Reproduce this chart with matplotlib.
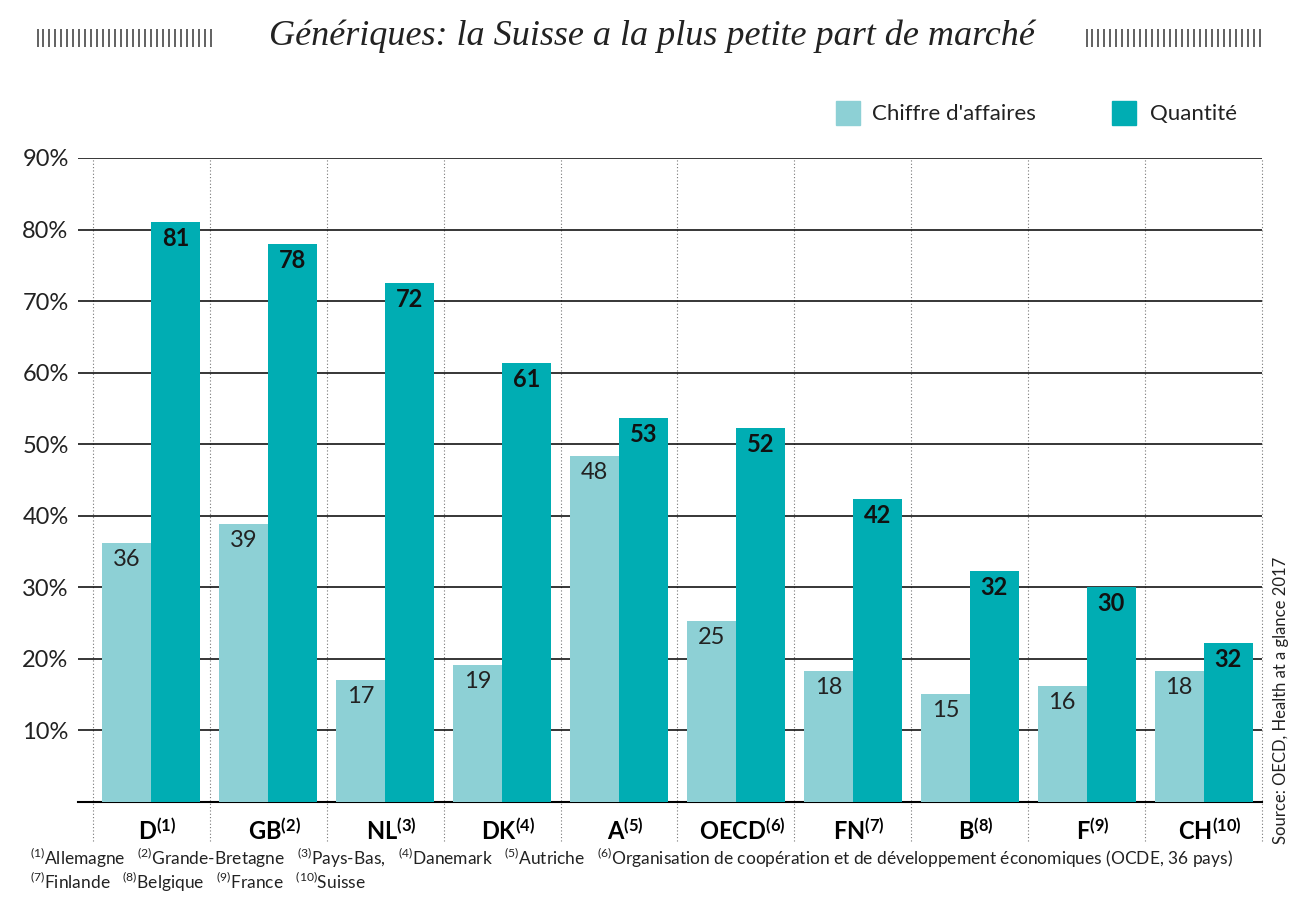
import matplotlib
matplotlib.use("Agg")
import matplotlib.pyplot as plt
import numpy as np

countries = ["D", "GB", "NL", "DK", "A", "OECD", "FN", "B", "F", "CH"]
notes = ["1", "2", "3", "4", "5", "6", "7", "8", "9", "10"]
chiffre = [36.2, 38.8, 17.1, 19.1, 48.3, 25.3, 18.3, 15.1, 16.2, 18.3]
quantite = [81.0, 78.0, 72.5, 61.4, 53.6, 52.2, 42.3, 32.3, 30.1, 22.2]
chiffre_labels = ["36", "39", "17", "19", "48", "25", "18", "15", "16", "18"]
quantite_labels = ["81", "78", "72", "61", "53", "52", "42", "32", "30", "32"]
yticks = [10, 20, 30, 40, 50, 60, 70, 80, 90]

light = "#8dd0d5"
dark = "#00adb3"

plt.rcParams["font.family"] = ["Lato", "DejaVu Sans"]
plt.rcParams["mathtext.fontset"] = "custom"
plt.rcParams["mathtext.rm"] = "Lato"
plt.rcParams["mathtext.bf"] = "Lato:bold"
plt.rcParams["mathtext.it"] = "Lato:italic"

fig = plt.figure(figsize=(13.04, 9.0), dpi=100)
ax = fig.add_axes([78 / 1304, 1 - 802 / 900, (1262 - 78) / 1304, (802 - 158) / 900])
ax.set_xlim(-0.5 - 15 / 117, 9.5)
ax.set_ylim(0, 90)

x = np.arange(len(countries))
w = 49 / 117
ax.bar(x - w / 2, chiffre, w, color=light, zorder=2)
ax.bar(x + w / 2, quantite, w, color=dark, zorder=2)

for i in range(len(countries)):
    ax.text(x[i] - w / 2, chiffre[i] - 2.3, chiffre_labels[i], ha="center", va="center",
            fontsize=17, color="#222222", zorder=3)
    ax.text(x[i] + w / 2, quantite[i] - 2.3, quantite_labels[i], ha="center", va="center",
            fontsize=17, fontweight="bold", color="#111111", zorder=3)

for t in yticks:
    ax.axhline(t, color="black", lw=1.1, zorder=1)
ax.axhline(0, color="black", lw=1.5, zorder=1, clip_on=False)

for b in np.arange(-0.5, 10.5, 1):
    ax.plot([b, b], [-5.5, 90], color="#777777", lw=0.8, ls=(0, (1, 2)),
            clip_on=False, zorder=0)

for s in ax.spines.values():
    s.set_visible(False)
ax.set_xticks([])
ax.set_yticks(yticks)
ax.set_yticklabels([f"{t}%" for t in yticks], fontsize=17, color="#222222")
ax.tick_params(axis="y", length=0, pad=6)
for lab in ax.get_yticklabels():
    lab.set_horizontalalignment("left")
    lab.set_x(-50 / (1262 - 78) * 0 - 0.04)

for i, c in enumerate(countries):
    ax.text(x[i] + 0.05, -4.0, r"$\mathbf{%s}^{\mathbf{(%s)}}$" % (c, notes[i]),
            ha="center", va="center", fontsize=17)

fig.text(30 / 1304, 1 - 858 / 900,
         r"$^{(1)}$Allemagne   $^{(2)}$Grande-Bretagne   $^{(3)}$Pays-Bas,   $^{(4)}$Danemark   "
         r"$^{(5)}$Autriche   $^{(6)}$Organisation de coopération et de développement économiques (OCDE, 36 pays)",
         fontsize=12.5, color="#222222", va="center")
fig.text(30 / 1304, 1 - 882 / 900,
         r"$^{(7)}$Finlande   $^{(8)}$Belgique   $^{(9)}$France   $^{(10)}$Suisse",
         fontsize=12.5, color="#222222", va="center")

fig.text(0.5, 1 - 36 / 900, "Génériques: la Suisse a la plus petite part de marché",
         ha="center", va="center", fontsize=26, style="italic",
         family="Liberation Serif", color="#222222")
fig.text(35 / 1304, 1 - 38 / 900, "|" * 30, fontsize=13, va="center", color="#333333",
         family="DejaVu Sans")
fig.text(1084 / 1304, 1 - 38 / 900, "|" * 30, fontsize=13, va="center", color="#333333",
         family="DejaVu Sans")

fig.patches.append(plt.Rectangle((836 / 1304, 1 - 125 / 900), 24 / 1304, 24 / 900,
                                 transform=fig.transFigure, color=light))
fig.text(872 / 1304, 1 - 114 / 900, "Chiffre d'affaires", fontsize=16, va="center",
         color="#222222")
fig.patches.append(plt.Rectangle((1112 / 1304, 1 - 125 / 900), 24 / 1304, 24 / 900,
                                 transform=fig.transFigure, color=dark))
fig.text(1150 / 1304, 1 - 114 / 900, "Quantité", fontsize=16, va="center", color="#222222")

fig.text(1281 / 1304, 1 - 700 / 900, "Source: OECD, Health at a glance 2017",
         rotation=90, ha="center", va="center", fontsize=12, color="#222222")

fig.savefig("out.png", dpi=100)
